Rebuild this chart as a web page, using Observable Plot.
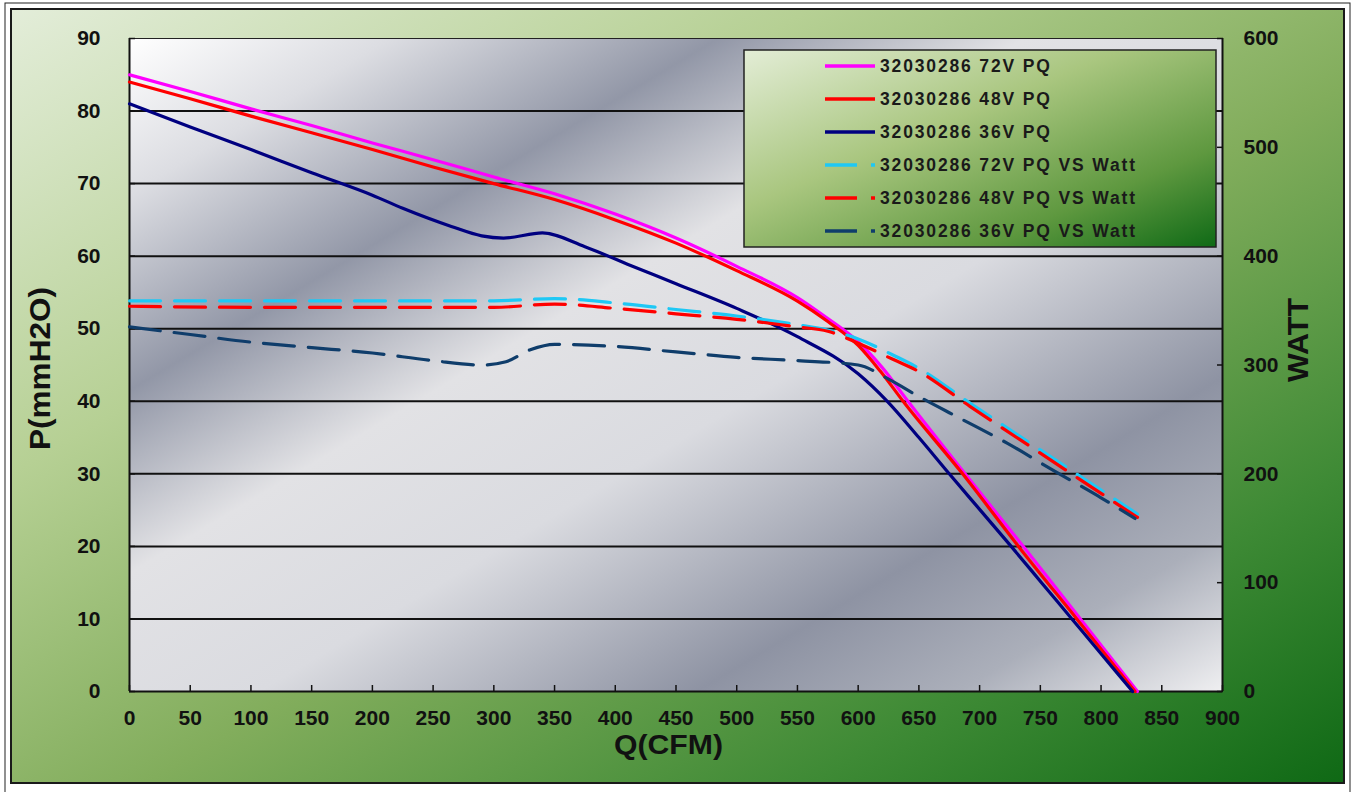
<!DOCTYPE html>
<html><head><meta charset="utf-8">
<script src="https://cdn.jsdelivr.net/npm/d3@7"></script>
<script src="https://cdn.jsdelivr.net/npm/@observablehq/plot@0.6"></script>
<style>
html,body{margin:0;padding:0;background:#fff;overflow:hidden;}
#chart{width:1354px;height:792px;}
</style></head><body><div id="chart"></div>
<script>
// ---------- data ----------
const SERIES_NAMES = ["32030286 72V PQ","32030286 48V PQ","32030286 36V PQ",
  "32030286 72V PQ VS Watt","32030286 48V PQ VS Watt","32030286 36V PQ VS Watt"];
const SERIES_COLORS = ["#ff00ff","#ff0000","#000080","#1ec8f5","#ff0000","#0f3d6b"];
const SERIES_DASHED = [false,false,false,true,true,true];

const Q_TICKS = [0,50,100,150,200,250,300,350,400,450,500,550,600,650,700,750,800,850,900];
const P_TICKS = [0,10,20,30,40,50,60,70,80,90];
const W_TICKS = [0,100,200,300,400,500,600];

// PQ curves (Q in CFM, P in mmH2O)
const Q_72PQ = [0,50,100,150,200,250,300,350,400,450,500,550,575,600,620,641,688,736,783,830];
const P_72PQ = [85.0,82.7,80.3,78.0,75.6,73.3,70.9,68.6,65.8,62.5,58.6,54.3,51.4,48.2,44.6,40,30,20,10,0];
const Q_48PQ = [0,50,100,150,200,250,300,350,400,450,500,550,575,600,618,637,686,732,780,828];
const P_48PQ = [84.0,81.7,79.3,77.0,74.7,72.3,70.0,67.8,65.0,61.8,58.0,53.8,51.0,47.7,44.2,40,30,20,10,0];
const Q_36PQ = [0,50,100,150,200,225,265,290,308,340,375,410,450,500,550,600,624,650,675,700,726,751,776,801,826];
const P_36PQ = [81.0,77.8,74.7,71.5,68.4,66.6,64.1,62.8,62.5,63.2,61.3,58.9,56.2,52.8,48.9,43.8,40,35,30,25.1,20,15,10,5,0];

// Power curves (Q in CFM, W in Watt, right axis)
const Q_72W = [0,100,200,300,350,400,450,500,550,575,600,629,650,692,750,800,830];
const W_72W = [359,359,359,359,361,357,351,345,337,332,324,309,297,265,222,185,163];
const Q_48W = [0,100,200,300,350,400,450,500,550,575,600,629,650,692,750,800,830];
const W_48W = [354,353,353,353,356,352,347,342,335,331,320,305,294,262,219,182,160];
const Q_36W = [0,50,100,150,200,250,290,310,330,350,400,450,500,550,600,625,650,684,723,761,800,828];
const W_36W = [335,328,321,316,311,304,300,303,314,319,317,312,307,304,300,287,271,251,228,203,178,159];

// ---------- build table ----------
const P_MAX = 90, W_MAX = 600, W2P = P_MAX / W_MAX;
const rows = [];
function addSeries(i, qs, vs, k) { qs.forEach((q, j) => rows.push({series: SERIES_NAMES[i], dashed: SERIES_DASHED[i], q, v: vs[j] * k})); }
addSeries(0, Q_72PQ, P_72PQ, 1);
addSeries(1, Q_48PQ, P_48PQ, 1);
addSeries(2, Q_36PQ, P_36PQ, 1);
addSeries(3, Q_72W, W_72W, W2P);
addSeries(4, Q_48W, W_48W, W2P);
addSeries(5, Q_36W, W_36W, W2P);

const TICK_FONT = "'Liberation Sans Narrow','Arial Narrow','Liberation Sans',Arial,sans-serif";
const TITLE_FONT = "'Liberation Sans',Arial,sans-serif";

const plot = Plot.plot({
  width: 1354, height: 792,
  marginLeft: 129, marginRight: 132, marginTop: 38, marginBottom: 101,
  style: {background: "transparent", fontFamily: TICK_FONT, fontWeight: "bold", color: "#111", overflow: "visible"},
  x: {domain: [0, 900]},
  y: {domain: [0, P_MAX]},
  color: {domain: SERIES_NAMES, range: SERIES_COLORS},
  marks: [
    Plot.gridY(P_TICKS.filter(t => t > 0 && t < P_MAX), {stroke: "#111", strokeOpacity: 1, strokeWidth: 2}),
    Plot.frame({stroke: "#222", strokeWidth: 1}),
    Plot.ruleX([0], {stroke: "#111", strokeWidth: 2}),
    Plot.ruleX([900], {stroke: "#111", strokeWidth: 2}),
    Plot.ruleY([0], {stroke: "#111", strokeWidth: 2}),
    // labels
    Plot.axisX({ticks: Q_TICKS, tickSize: 0, tickPadding: 19, fontSize: 21, label: null, tickFormat: d => String(d)}),
    Plot.axisY({ticks: P_TICKS, tickSize: 0, tickPadding: 29, fontSize: 21, label: null, tickFormat: d => String(d)}),
    Plot.axisY({anchor: "right", ticks: W_TICKS.map(w => w * W2P), tickFormat: d => String(Math.round(d / W2P)),
      tickSize: 0, tickPadding: 21, fontSize: 21, label: null}),
    // inward tick marks
    Plot.axisX({ticks: Q_TICKS, tickSize: 6, dy: -6, text: null, label: null, stroke: "#111", strokeWidth: 1.5}),
    Plot.axisY({ticks: P_TICKS, tickSize: 6, dx: 6, text: null, label: null, stroke: "#111", strokeWidth: 1.5}),
    Plot.axisY({anchor: "right", ticks: W_TICKS.map(w => w * W2P), tickSize: 6, dx: -6, text: null, label: null, stroke: "#111", strokeWidth: 1.5}),
    // curves
    Plot.line(rows.filter(d => !d.dashed), {x: "q", y: "v", z: "series", stroke: "series", strokeWidth: 3.2, curve: "monotone-x"}),
    Plot.line(rows.filter(d => d.dashed), {x: "q", y: "v", z: "series", stroke: "series", strokeWidth: 3.2, curve: "monotone-x", strokeDasharray: "31,14"})
  ]
});

document.getElementById("chart").appendChild(plot);

// ---------- decoration ----------
const svg = d3.select(plot);
const [x0, x1] = plot.scale("x").range;
const [yb, yt] = plot.scale("y").range;
const defs = svg.insert("defs", ":first-child");

function lin(id, stops) {
  const g = defs.append("linearGradient").attr("id", id).attr("x1", 0).attr("y1", 0).attr("x2", 1).attr("y2", 1);
  stops.forEach(([o, c]) => g.append("stop").attr("offset", o).attr("stop-color", c));
}
lin("gGreen", [[0, "#e3edd9"], [0.3, "#b6d094"], [0.55, "#82ad5c"], [0.8, "#3e8a35"], [1, "#0f6915"]]);
lin("gLegend", [[0, "#e3edd6"], [0.4, "#a9c67f"], [0.75, "#5e983f"], [1, "#0f6a16"]]);
lin("gMetal", [[0, "#ffffff"], [0.12, "#dcdde2"], [0.27, "#9297a7"], [0.41, "#e2e2e5"], [0.56, "#dadbe0"],
  [0.76, "#8e93a3"], [0.88, "#abafba"], [1, "#efeff1"]]);

svg.insert("rect", "defs + *").attr("x", x0).attr("y", yt).attr("width", x1 - x0).attr("height", yb - yt).attr("fill", "url(#gMetal)");
svg.insert("rect", "defs + *").attr("x", 11).attr("y", 9).attr("width", 1333).attr("height", 774)
  .attr("fill", "url(#gGreen)").attr("stroke", "#1a1a1a").attr("stroke-width", 2);
svg.insert("rect", "defs + *").attr("x", 5).attr("y", 3).attr("width", 1345).attr("height", 800)
  .attr("fill", "#fff").attr("stroke", "#222").attr("stroke-width", 1);

// axis titles
svg.append("text").attr("transform", `translate(50,${(yt + yb) / 2 + 4}) rotate(-90)`)
  .attr("text-anchor", "middle").attr("font-family", TITLE_FONT).attr("font-weight", "bold").attr("font-size", 29)
  .attr("textLength", 163).attr("lengthAdjust", "spacingAndGlyphs").attr("fill", "#111").text("P(mmH2O)");
svg.append("text").attr("x", (x0 + x1) / 2 - 7).attr("y", 754)
  .attr("text-anchor", "middle").attr("font-family", TITLE_FONT).attr("font-weight", "bold").attr("font-size", 27)
  .attr("textLength", 109).attr("lengthAdjust", "spacingAndGlyphs").attr("fill", "#111").text("Q(CFM)");
svg.append("text").attr("transform", `translate(1308,340) rotate(-90)`)
  .attr("text-anchor", "middle").attr("font-family", TITLE_FONT).attr("font-weight", "bold").attr("font-size", 30)
  .attr("textLength", 84).attr("lengthAdjust", "spacingAndGlyphs").attr("fill", "#111").text("WATT");

// legend
const lg = svg.append("g");
lg.append("rect").attr("x", 744).attr("y", 50).attr("width", 472).attr("height", 197)
  .attr("fill", "url(#gLegend)").attr("stroke", "#222").attr("stroke-width", 1.5);
SERIES_NAMES.forEach((name, i) => {
  const y = 66 + i * 33;
  if (SERIES_DASHED[i]) {
    lg.append("line").attr("x1", 825).attr("x2", 857).attr("y1", y).attr("y2", y).attr("stroke", SERIES_COLORS[i]).attr("stroke-width", 3.5);
    lg.append("line").attr("x1", 871).attr("x2", 875).attr("y1", y).attr("y2", y).attr("stroke", SERIES_COLORS[i]).attr("stroke-width", 3.5);
  } else {
    lg.append("line").attr("x1", 825).attr("x2", 875).attr("y1", y).attr("y2", y).attr("stroke", SERIES_COLORS[i]).attr("stroke-width", 3.5);
  }
  lg.append("text").attr("x", 880).attr("y", y + 6).attr("text-anchor", "start").attr("font-family", TITLE_FONT).attr("font-weight", "bold")
    .attr("font-size", 17.5).attr("letter-spacing", 1.85).attr("fill", "#1a1a1a").text(name);
});
</script></body></html>
